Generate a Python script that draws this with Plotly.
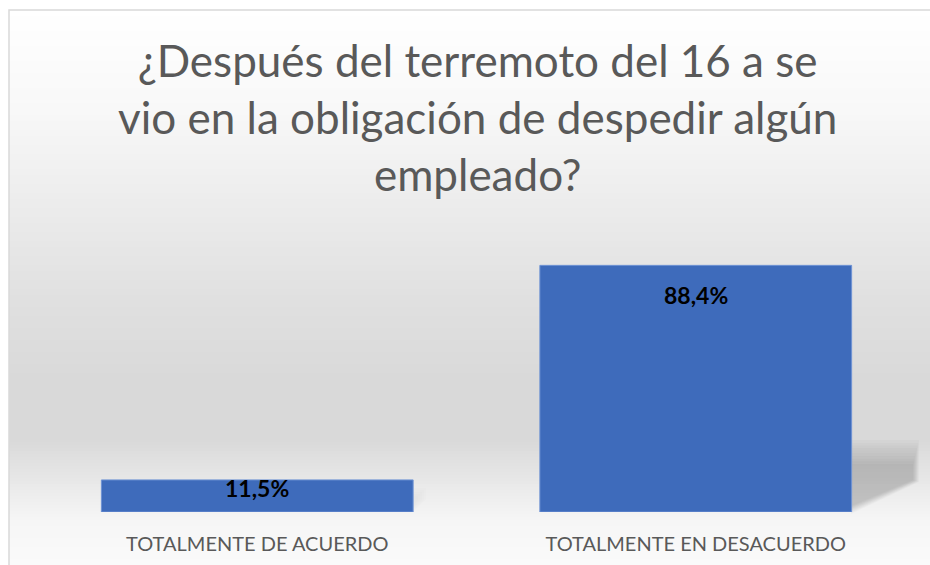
import plotly.graph_objects as go

categories = ["TOTALMENTE DE ACUERDO", "TOTALMENTE EN DESACUERDO"]
values = [11.5, 88.4]
value_labels = ["11,5%", "88,4%"]
title_text = "¿Después del terremoto del 16 a se<br>vio en la obligación de despedir algún<br>empleado?"

W, H = 930, 565
M_L, M_R, M_T, M_B = 38, 15, 233, 53
plot_h = H - M_T - M_B

def py_to_paper(py):
    return (H - M_B - py) / plot_h

def px_to_paper(px):
    return (px - M_L) / (W - M_L - M_R)

# background gradient stops (pixel y, gray level)
stops = [(10, 255), (110, 248), (180, 239), (300, 224), (380, 217), (440, 217), (470, 228), (520, 246), (565, 250)]

def gray_at(y):
    for (y0, g0), (y1, g1) in zip(stops, stops[1:]):
        if y0 <= y <= y1:
            t = (y - y0) / (y1 - y0)
            return g0 + (g1 - g0) * t
    return stops[-1][1]

shapes = []
step = 3
y = 10
while y < H:
    g = int(round(gray_at(y + step / 2)))
    shapes.append(dict(type="rect", xref="paper", yref="paper", layer="below",
                       x0=px_to_paper(9), x1=px_to_paper(W + 5),
                       y0=py_to_paper(y + step + 0.5), y1=py_to_paper(y),
                       fillcolor=f"rgb({g},{g},{g})", line=dict(width=0)))
    y += step

# soft shadows behind bars (decoration)
def shadow(x_left, x_right, y_top, y_corner, y_bottom, alpha):
    return dict(type="path", xref="paper", yref="paper", layer="below",
                path=f"M {px_to_paper(x_left)},{py_to_paper(y_top)} L {px_to_paper(x_right)},{py_to_paper(y_top)} "
                     f"L {px_to_paper(x_right)},{py_to_paper(y_corner)} L {px_to_paper(x_left)},{py_to_paper(y_bottom)} Z",
                fillcolor=f"rgba(0,0,0,{alpha})", line=dict(width=0))

n = 10
for i in range(n):
    t = i / (n - 1)
    shapes.append(shadow(851, 919 - 6 * t, 440 + 24 * t, 482 - 2 * t, 514 - 8 * t, 0.018))
for i in range(5):
    t = i / 4
    shapes.append(shadow(413, 426 - 8 * t, 488 + 8 * t, 500, 512 - 4 * t, 0.008))

# frame
shapes.append(dict(type="path", xref="paper", yref="paper",
                   path=f"M {px_to_paper(9)},{py_to_paper(H + 5)} L {px_to_paper(9)},{py_to_paper(10)} L {px_to_paper(W + 5)},{py_to_paper(10)}",
                   line=dict(color="#d9d9d9", width=1.5)))

fig = go.Figure()
fig.add_trace(go.Bar(
    x=categories, y=values, width=0.711,
    marker=dict(color="#3e6bbb", line=dict(color="#6f93d4", width=1)),
    hoverinfo="skip",
))

annotations = []
shifts = [-8, -30]
for c, v, lab, s in zip(categories, values, value_labels, shifts):
    annotations.append(dict(x=c, y=v, text=f"<b>{lab}</b>", showarrow=False, yshift=s,
                            font=dict(family="Lato, sans-serif", size=23, color="#000000")))

annotations.append(dict(text=title_text, xref="paper", yref="paper",
                        x=px_to_paper(477), y=py_to_paper(117), xanchor="center", yanchor="middle",
                        showarrow=False, align="center",
                        font=dict(family="Lato, sans-serif", size=44, color="#595959")))

fig.update_layout(
    width=W, height=H,
    margin=dict(l=M_L, r=M_R, t=M_T, b=M_B),
    paper_bgcolor="#ffffff",
    plot_bgcolor="rgba(0,0,0,0)",
    showlegend=False,
    hovermode=False,
    xaxis=dict(showgrid=False, showline=False, zeroline=False, ticks="",
               tickfont=dict(family="Lato, sans-serif", size=20, color="#595959"),
               ticklabelstandoff=18, range=[-0.5, 1.5], automargin=False, fixedrange=True),
    yaxis=dict(visible=False, range=[0, 100], showgrid=False, zeroline=False, fixedrange=True),
    shapes=shapes,
    annotations=annotations,
    bargap=0.289,
)

fig.write_html("out.html", config={"displayModeBar": False},
               post_script="document.body.style.margin='0';document.body.style.overflow='hidden';")
